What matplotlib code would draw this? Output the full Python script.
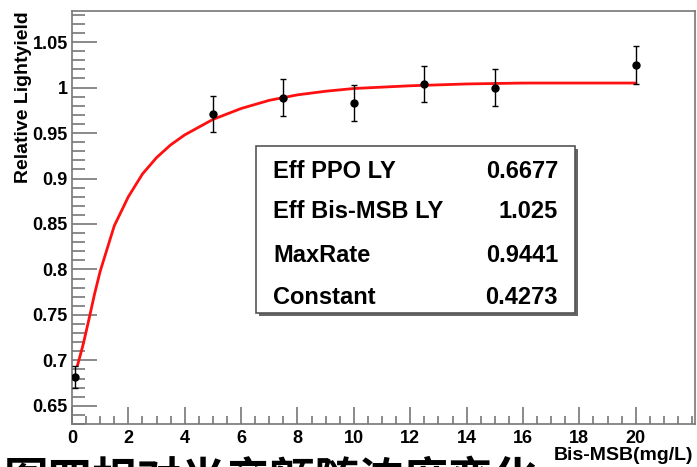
import numpy as np
import matplotlib.pyplot as plt
from matplotlib.ticker import MultipleLocator
from matplotlib.patches import Rectangle

plt.rcParams["font.family"] = ["Liberation Sans", "Noto Sans CJK SC", "DejaVu Sans"]

# 測量資料點
濃度 = [0.1, 5, 7.5, 10, 12.5, 15, 20]
相對光產額 = [0.682, 0.971, 0.989, 0.983, 1.004, 1.000, 1.025]
誤差 = [0.012, 0.020, 0.020, 0.020, 0.020, 0.020, 0.021]

# 擬合曲線
曲線x = [0.2, 0.4, 0.6, 0.8, 1.0, 1.5, 2.0, 2.5, 3.0, 3.5, 4.0, 5.0, 6.0,
        7.0, 8.0, 9.0, 10, 12, 14, 16, 20]
曲線y = [0.695, 0.718, 0.745, 0.773, 0.798, 0.848, 0.880, 0.905, 0.923,
        0.937, 0.948, 0.965, 0.977, 0.986, 0.992, 0.996, 0.999, 1.002,
        1.004, 1.005, 1.005]

# 擬合參數
參數名稱 = ["Eff PPO LY", "Eff Bis-MSB LY", "MaxRate", "Constant"]
參數數值 = ["0.6677", "1.025", "0.9441", "0.4273"]

x刻度 = [0, 2, 4, 6, 8, 10, 12, 14, 16, 18, 20]
y刻度 = [0.65, 0.7, 0.75, 0.8, 0.85, 0.9, 0.95, 1.0, 1.05]
y刻度標籤 = ["0.65", "0.7", "0.75", "0.8", "0.85", "0.9", "0.95", "1", "1.05"]

fig = plt.figure(figsize=(6.97, 4.67), dpi=100)
ax = fig.add_axes([0.1033, 0.092, 0.8937, 0.884])

ax.plot(曲線x, 曲線y, color="#ff1010", linewidth=2, zorder=2)
ax.errorbar(濃度, 相對光產額, yerr=誤差, fmt="o", color="black",
            markersize=5, elinewidth=1, capsize=2, capthick=1, zorder=3)

ax.set_xlim(0, 22.1)
ax.set_ylim(0.63, 1.084)

ax.set_xticks(x刻度)
ax.xaxis.set_minor_locator(MultipleLocator(0.5))
ax.set_yticks(y刻度)
ax.set_yticklabels(y刻度標籤)
ax.yaxis.set_minor_locator(MultipleLocator(0.01))

ax.tick_params(axis="y", which="major", direction="in", length=18, width=1.2,
               color="#777777", labelsize=13, pad=3)
ax.tick_params(axis="y", which="minor", direction="in", length=9, width=1.2,
               color="#777777")
ax.tick_params(axis="x", which="major", direction="in", length=12, width=1.2,
               color="#777777", labelsize=13, pad=4)
ax.tick_params(axis="x", which="minor", direction="in", length=6, width=1.2,
               color="#777777")
for lab in ax.get_xticklabels() + ax.get_yticklabels():
    lab.set_fontweight("bold")

for s in ax.spines.values():
    s.set_color("#777777")
    s.set_linewidth(1.2)

fig.text(0.033, 0.975, "Relative Lightyield", rotation=90, ha="center",
         va="top", fontsize=14, fontweight="bold")
fig.text(0.995, 0.024, "Bis-MSB(mg/L)", ha="right", va="center",
         fontsize=14, fontweight="bold")

# 參數框
框 = Rectangle((256 / 697, 1 - 313 / 467), (575 - 256) / 697, (313 - 146) / 467,
             transform=fig.transFigure, facecolor="white", edgecolor="#555555",
             linewidth=1.2, zorder=5)
陰影 = Rectangle((259 / 697, 1 - 316 / 467), (575 - 256) / 697, (313 - 146) / 467,
               transform=fig.transFigure, facecolor="#666666", edgecolor="none",
               zorder=4)
fig.patches.extend([陰影, 框])

列位置 = [172, 211, 256, 297]
for 名稱, 數值, y in zip(參數名稱, 參數數值, 列位置):
    fig.text(273 / 697, 1 - y / 467, 名稱, ha="left", va="center",
             fontsize=17, fontweight="bold", zorder=6)
    fig.text(558 / 697, 1 - y / 467, 數值, ha="right", va="center",
             fontsize=17, fontweight="bold", zorder=6)

# 底部被截斷的說明文字
fig.text(0.005, 0.018, "图四相对光产额随浓度变化", ha="left", va="top",
         fontsize=32, fontweight="bold", family=["Noto Sans CJK SC"])

fig.savefig("out.png", dpi=100)
